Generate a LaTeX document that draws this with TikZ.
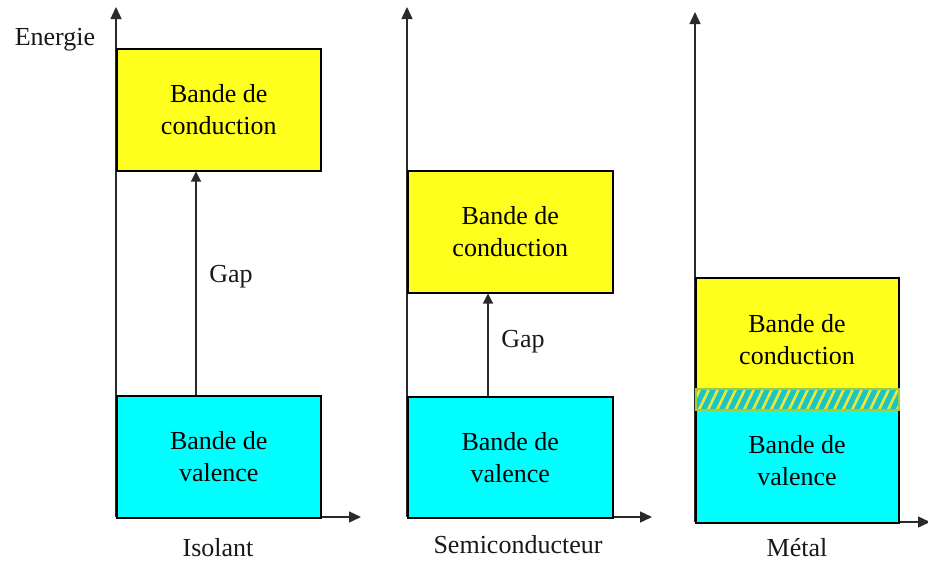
\documentclass[tikz,border=0pt]{standalone}
\usepackage{fontspec}
\setmainfont{Liberation Serif}
\usetikzlibrary{arrows.meta}
\definecolor{bandyellow}{HTML}{FFFF1E}
\definecolor{bandcyan}{HTML}{00FFFF}
\definecolor{hatchcyan}{HTML}{1CC4C4}
\definecolor{hatchyellow}{HTML}{E8E83C}
\definecolor{hatchgreen}{HTML}{9CCC3C}
\definecolor{axisgray}{HTML}{2A2A2A}
\begin{document}
\begin{tikzpicture}[x=1pt,y=-1pt,
  every node/.style={font=\fontsize{26}{32}\selectfont},
  band/.style={draw=black, line width=1.5pt, align=center, inner sep=0pt, anchor=north west},
  cband/.style={band, fill=bandyellow},
  vband/.style={band, fill=bandcyan},
  axis/.style={draw=axisgray, line width=1.4pt, -{Triangle[length=12pt,width=11pt]}},
  gaparrow/.style={draw=axisgray, line width=1.1pt, -{Triangle[length=10pt,width=10pt]}},
  lbl/.style={text=black!90, align=center}]
\useasboundingbox (0,0) rectangle (928,562);

% ---------- Isolant ----------
\coordinate (o1) at (116,517);
\coordinate (y1) at (116,7);
\coordinate (x1) at (361,517);
\draw[axis] (o1) -- (y1);
\draw[axis] (o1) -- (x1);
\node[cband, minimum width=204pt, minimum height=122pt] (c1) at (116,48) {Bande de\\conduction};
\node[vband, minimum width=204pt, minimum height=122pt] (v1) at (116,395) {Bande de\\valence};
\coordinate (g1) at (196,0);
\draw[gaparrow] (v1.north -| g1) -- (c1.south -| g1);
\node[lbl] (gap1) at (231,277) {Gap};
\node[lbl] (iso) at (218,548) {Isolant};
\node[lbl] (en) at (55,40) {Energie};

% ---------- Semiconducteur ----------
\coordinate (o2) at (407,517);
\coordinate (y2) at (407,7);
\coordinate (x2) at (652,517);
\draw[axis] (o2) -- (y2);
\draw[axis] (o2) -- (x2);
\node[cband, minimum width=205pt, minimum height=122pt] (c2) at (407,170) {Bande de\\conduction};
\node[vband, minimum width=205pt, minimum height=121pt] (v2) at (407,396) {Bande de\\valence};
\coordinate (g2) at (488,0);
\draw[gaparrow] (v2.north -| g2) -- (c2.south -| g2);
\node[lbl] (gap2) at (523,342) {Gap};
\node[lbl] (semi) at (518,545) {Semiconducteur};

% ---------- Metal ----------
\coordinate (o3) at (695,522);
\coordinate (y3) at (695,12);
\coordinate (x3) at (930,522);
\draw[axis] (o3) -- (y3);
\draw[axis] (o3) -- (x3);
\node[cband, minimum width=203pt, minimum height=112pt] (c3) at (695,277) {};
\node[vband, minimum width=203pt, minimum height=113pt] (v3) at (695,409) {};
\node[align=center] (t3) at (797,340) {Bande de\\conduction};
\node[align=center] (t4) at (797,461) {Bande de\\valence};
% hatched overlap band
\begin{scope}
  \clip (695,388) rectangle (898,409);
  \fill[hatchcyan] (695,388) rectangle (898,409);
  \foreach \i in {0,...,25} {
    \draw[hatchyellow, line width=2.6pt] (680+9*\i,412) -- (693+9*\i,385);
  }
\end{scope}
\node[draw=hatchgreen, line width=2pt, minimum width=203pt, minimum height=21pt, inner sep=0pt, anchor=north west] (h3) at (695,388) {};
\node[lbl] (met) at (797,548) {Métal};
\end{tikzpicture}
\end{document}
